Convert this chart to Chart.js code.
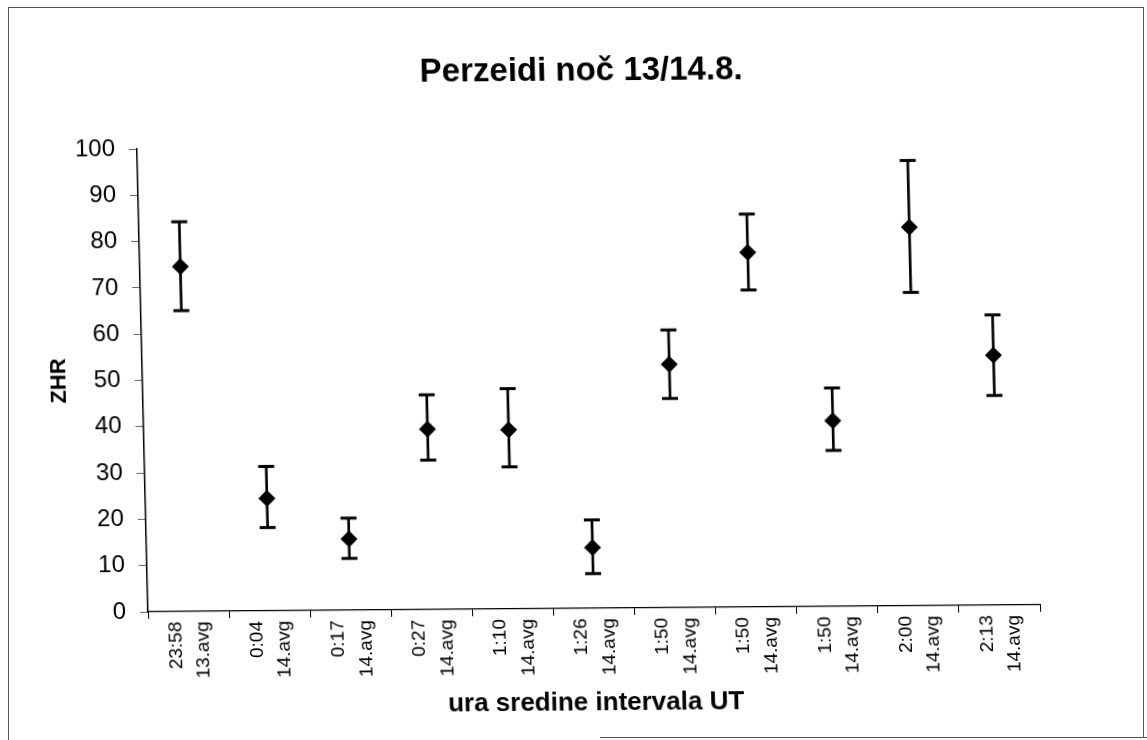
<!DOCTYPE html>
<html>
<head>
<meta charset="utf-8">
<script src="https://cdn.jsdelivr.net/npm/chart.js@4.4.1/dist/chart.umd.min.js"></script>
<style>
  html, body { margin: 0; padding: 0; background: #fff; }
  #wrap { position: relative; width: 1147px; height: 740px; overflow: hidden; background: #fff; }
  #c { position: absolute; left: 0; top: 0; transform-origin: 0 0;
       transform: matrix(1, -0.00785, 0.0238, 1, -14.57, 1.16); }
  .fl { position: absolute; background: #555; }
</style>
</head>
<body>
<div id="wrap">
  <canvas id="c" width="1147" height="740"></canvas>
  <div class="fl" style="left:8px;top:7px;width:1px;height:733px"></div>
  <div class="fl" style="left:8px;top:7px;width:1136px;height:1px"></div>
  <div class="fl" style="left:1143px;top:7px;width:1px;height:731px"></div>
  <div class="fl" style="left:600px;top:737px;width:547px;height:1px"></div>
</div>
<script>
// ---- data ----
const categories = [
  ['23:58', '13.avg'], ['0:04', '14.avg'], ['0:17', '14.avg'], ['0:27', '14.avg'],
  ['1:10', '14.avg'], ['1:26', '14.avg'], ['1:50', '14.avg'], ['1:50', '14.avg'],
  ['1:50', '14.avg'], ['2:00', '14.avg'], ['2:13', '14.avg']
];
const zhr     = [74.5, 24.3, 15.4, 39.0, 38.7, 13.1, 52.6, 76.6, 40.1, 81.8, 54.0];
const zhrHigh = [84.2, 31.2, 19.9, 46.4, 47.6, 19.1, 60.0, 84.9, 47.2, 96.2, 62.7];
const zhrLow  = [65.0, 18.0, 11.2, 32.3, 30.7,  7.5, 45.2, 68.5, 33.7, 67.7, 45.3];
const yTickValues = [0, 10, 20, 30, 40, 50, 60, 70, 80, 90, 100];
const chartTitle = 'Perzeidi noč 13/14.8.';
const xTitle = 'ura sredine intervala UT';
const yTitle = 'ZHR';

const FONT = "'Liberation Sans', Arial, sans-serif";
const errorRanges = zhrLow.map((lo, i) => [lo, zhrHigh[i]]);

new Chart(document.getElementById('c'), {
  type: 'bar',
  data: {
    labels: categories,
    datasets: [
      { type: 'line', data: zhr, showLine: false, pointStyle: 'rectRot',
        pointRadius: 8.5, pointBackgroundColor: '#000', pointBorderColor: '#000',
        pointBorderWidth: 0, order: 0 },
      { type: 'line', data: zhrHigh, showLine: false, pointStyle: 'line',
        pointRadius: 8, pointBorderColor: '#000', pointBorderWidth: 3, order: 1 },
      { type: 'line', data: zhrLow, showLine: false, pointStyle: 'line',
        pointRadius: 8, pointBorderColor: '#000', pointBorderWidth: 3, order: 1 },
      { type: 'bar', data: errorRanges, backgroundColor: '#000', borderWidth: 0,
        barThickness: 2, order: 2 }
    ]
  },
  options: {
    responsive: false,
    animation: false,
    devicePixelRatio: 1,
    layout: { padding: { left: 40, right: 107, top: 0, bottom: 0 } },
    plugins: {
      legend: { display: false },
      tooltip: { enabled: false },
      title: {
        display: true, text: chartTitle, fullSize: false, color: '#000',
        font: { family: FONT, size: 33, weight: 'bold', lineHeight: 1.2 },
        padding: { top: 55, bottom: 54.4 }
      }
    },
    scales: {
      x: {
        afterFit: (s) => { s.height = 128; },
        grid: { display: true, drawOnChartArea: false, offset: true, tickLength: 7, color: '#000', lineWidth: 1 },
        border: { display: true, color: '#000', width: 1.2 },
        ticks: { color: '#000', font: { family: FONT, size: 19, lineHeight: 1.45 },
                 maxRotation: 90, minRotation: 90, padding: 3, autoSkip: false, labelOffset: -13 },
        title: { display: true, text: xTitle, color: '#000',
                 font: { family: FONT, size: 26, weight: 'bold' }, padding: { top: 0, bottom: 18 } }
      },
      y: {
        min: 0, max: 100,
        afterFit: (s) => { s.width = 108; },
        afterBuildTicks: (s) => { s.ticks = yTickValues.map(v => ({ value: v })); },
        grid: { display: true, drawOnChartArea: false, tickLength: 8, color: '#666', lineWidth: 1 },
        border: { display: true, color: '#000', width: 1.5 },
        ticks: { color: '#000', font: { family: FONT, size: 24 }, padding: 14 },
        title: { display: true, text: yTitle, color: '#000',
                 font: { family: FONT, size: 22, weight: 'bold' }, padding: { top: 12, bottom: 0 } }
      }
    }
  }
});
</script>
</body>
</html>
